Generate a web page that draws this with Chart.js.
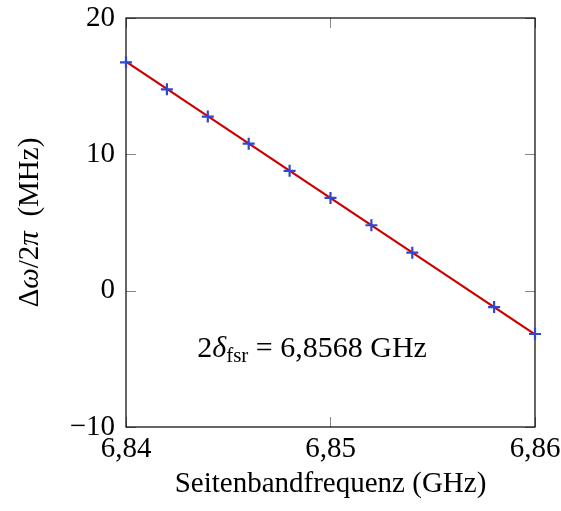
<!DOCTYPE html>
<html>
<head>
<meta charset="utf-8">
<script src="https://cdn.jsdelivr.net/npm/chart.js@4/dist/chart.umd.min.js"></script>
<style>
  html, body { margin: 0; padding: 0; background: #fff; }
  #wrap { width: 561px; height: 511px; }
</style>
</head>
<body>
<div id="wrap"><canvas id="fsrChart" width="561" height="511"></canvas></div>
<script>
// measured detuning vs sideband frequency
const sidebandGHz = [6.840, 6.842, 6.844, 6.846, 6.848, 6.850, 6.852, 6.854, 6.858, 6.860];
const detuningMHz = [16.75, 14.77, 12.77, 10.78, 8.79, 6.80, 4.80, 2.79, -1.20, -3.18];

// linear fit endpoints
const fitGHz = [6.840, 6.860];
const fitMHz = [16.8, -3.2];

const xTicks = [6.84, 6.85, 6.86];
const yTicks = [-10, 0, 10, 20];

const FONT = "'Liberation Serif', 'Times New Roman', serif";
const FS = 29;

function fmtNum(v, digits) {
    let s = Math.abs(v).toFixed(digits).replace('.', ',');
    return (v < 0 ? '\u2212' : '') + s;
}

// draw a string made of pieces with different styles
function drawRich(ctx, parts, x, y, align) {
    let total = 0;
    parts.forEach(p => {
        ctx.font = (p.italic ? 'italic ' : '') + p.size + 'px ' + FONT;
        p.w = ctx.measureText(p.text).width;
        total += p.w;
    });
    let cx = align === 'center' ? x - total / 2 : x;
    ctx.textBaseline = 'alphabetic';
    ctx.textAlign = 'left';
    parts.forEach(p => {
        ctx.font = (p.italic ? 'italic ' : '') + p.size + 'px ' + FONT;
        ctx.fillText(p.text, cx, y + (p.dy || 0));
        cx += p.w;
    });
}

const framePlugin = {
    id: 'frame',
    beforeDatasetsDraw(chart) {
        const ctx = chart.ctx;
        const a = chart.chartArea;
        const xs = chart.scales.x, ys = chart.scales.y;
        ctx.save();
        // inner tick marks
        ctx.strokeStyle = '#888';
        ctx.lineWidth = 1;
        const tl = 10;
        ctx.beginPath();
        yTicks.forEach(v => {
            const py = Math.round(ys.getPixelForValue(v)) + 0.5;
            ctx.moveTo(a.left, py); ctx.lineTo(a.left + tl, py);
            ctx.moveTo(a.right, py); ctx.lineTo(a.right - tl, py);
        });
        xTicks.forEach(v => {
            const px = Math.round(xs.getPixelForValue(v)) + 0.5;
            ctx.moveTo(px, a.top); ctx.lineTo(px, a.top + tl);
            ctx.moveTo(px, a.bottom); ctx.lineTo(px, a.bottom - tl);
        });
        ctx.stroke();
        // box
        ctx.strokeStyle = '#000';
        ctx.lineWidth = 1.2;
        ctx.strokeRect(a.left, a.top, a.right - a.left, a.bottom - a.top);
        ctx.restore();
    },
    afterDraw(chart) {
        const ctx = chart.ctx;
        const xs = chart.scales.x, ys = chart.scales.y;
        const a = chart.chartArea;
        ctx.save();
        ctx.fillStyle = '#000';
        // annotation
        drawRich(ctx, [
            { text: '2', size: 30 },
            { text: '\u03b4', size: 30, italic: true },
            { text: 'fsr', size: 21, dy: 5 },
            { text: ' = 6,8568 GHz', size: 30 }
        ], xs.getPixelForValue(6.8491), ys.getPixelForValue(-4.9), 'center');
        // y title
        ctx.translate(38, (a.top + a.bottom) / 2);
        ctx.rotate(-Math.PI / 2);
        drawRich(ctx, [
            { text: '\u0394', size: FS },
            { text: '\u03c9', size: FS, italic: true },
            { text: '/2', size: FS },
            { text: '\u03c0', size: FS, italic: true },
            { text: '  (MHz)', size: FS }
        ], 0, 0, 'center');
        ctx.restore();
    }
};

new Chart(document.getElementById('fsrChart').getContext('2d'), {
    type: 'scatter',
    data: {
        datasets: [
            {
                label: 'Messung',
                data: sidebandGHz.map((v, i) => ({ x: v, y: detuningMHz[i] })),
                showLine: false,
                clip: false,
                pointStyle: 'cross',
                pointRadius: 6,
                pointBorderWidth: 2.2,
                borderColor: '#2f48d0',
                backgroundColor: '#2f48d0',
                order: 1
            },
            {
                label: 'Fit',
                data: fitGHz.map((v, i) => ({ x: v, y: fitMHz[i] })),
                showLine: true,
                clip: false,
                pointRadius: 0,
                borderColor: '#cc0000',
                borderWidth: 2.2,
                order: 2
            }
        ]
    },
    options: {
        responsive: false,
        animation: false,
        devicePixelRatio: 1,
        layout: { padding: { top: 18, right: 26, left: 0, bottom: 0 } },
        plugins: { legend: { display: false }, tooltip: { enabled: false } },
        scales: {
            x: {
                type: 'linear', min: 6.84, max: 6.86,
                afterBuildTicks: s => { s.ticks = xTicks.map(v => ({ value: v })); },
                afterFit: s => { s.height = 84; s.paddingLeft = 0; s.paddingRight = 0; },
                grid: { display: false, drawTicks: false },
                border: { display: false },
                ticks: {
                    color: '#000', padding: 5, maxRotation: 0, autoSkip: false,
                    font: { family: FONT, size: FS },
                    callback: v => fmtNum(v, 2)
                },
                title: {
                    display: true, text: 'Seitenbandfrequenz (GHz)', color: '#000',
                    font: { family: FONT, size: FS }, padding: { top: 0, bottom: 9 }
                }
            },
            y: {
                type: 'linear', min: -10, max: 20,
                afterBuildTicks: s => { s.ticks = yTicks.map(v => ({ value: v })); },
                afterFit: s => { s.width = 126; s.paddingTop = 0; s.paddingBottom = 0; },
                grid: { display: false, drawTicks: false },
                border: { display: false },
                ticks: {
                    color: '#000', padding: 11, autoSkip: false,
                    font: { family: FONT, size: FS },
                    callback: v => fmtNum(v, 0)
                }
            }
        }
    },
    plugins: [framePlugin]
});
</script>
</body>
</html>
